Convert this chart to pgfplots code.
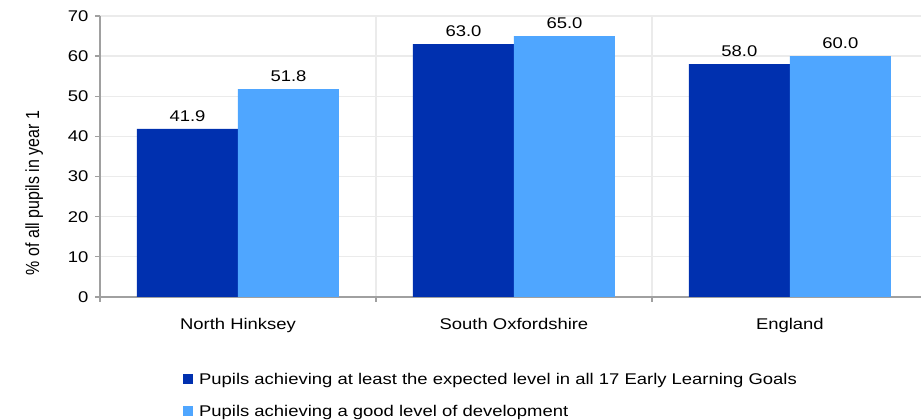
\documentclass[border=0pt]{standalone}
\usepackage{pgfplots}
\pgfplotsset{compat=1.18}
\usepackage{fontspec}
\setmainfont{Liberation Sans}[FakeStretch=1.19]
\newfontfamily\ylabfont{Liberation Sans}[FakeStretch=0.84]
\definecolor{darkb}{HTML}{0030AF}
\definecolor{lightb}{HTML}{4FA6FF}
\definecolor{gridc}{HTML}{EBEBEB}
\definecolor{axc}{HTML}{A0A0A0}
\newcommand{\mainsz}{\fontsize{15.5bp}{18bp}\selectfont}
\begin{document}
\begin{tikzpicture}
\begin{axis}[name=ax,
  scale only axis, width=821bp, height=281bp,
  xmin=-0.5, xmax=2.475, ymin=0, ymax=70,
  ybar=0pt, bar width=101bp,
  axis lines*=left,
  axis line style={axc, line width=1.3bp},
  /pgf/number format/assume math mode=true,
  font=\mainsz,
  xtick={-0.5,0.5,1.5}, xticklabels={},
  xmajorgrids,
  extra x ticks={0,1,2},
  extra x tick labels={North Hinksey, South Oxfordshire, England},
  extra x tick style={major tick length=0pt, grid=none, x tick label style={yshift=-18bp}},
  ytick={0,10,...,70},
  ymajorgrids,
  major grid style={gridc, line width=1.3bp},
  tick style={axc, line width=1.3bp},
  major tick length=5bp, tick align=outside,
  y tick label style={xshift=-3bp},
  nodes near coords,
  every node near coord/.append style={font=\mainsz, black, yshift=4bp,
    /pgf/number format/fixed, /pgf/number format/fixed zerofill, /pgf/number format/precision=1},
  ylabel={\ylabfont\fontsize{19bp}{22bp}\selectfont \% of all pupils in year 1},
  ylabel style={at={(rel axis cs:-0.08,0.37)}, anchor=center},
  legend style={draw=none, fill=none, at={(0.0974,-0.256)}, anchor=north west,
    font=\mainsz, row sep=15bp, cells={anchor=west},
    /tikz/every odd column/.append style={column sep=4bp}},
  legend cell align=left,
]
\addplot[fill=darkb, draw=none, legend image code/.code={\fill[darkb] (0bp,-5bp) rectangle (10bp,5bp);}]
  coordinates {(0,41.9) (1,63.0) (2,58.0)};
\addplot[fill=lightb, draw=none, legend image code/.code={\fill[lightb] (0bp,-5bp) rectangle (10bp,5bp);}]
  coordinates {(0,51.8) (1,65.0) (2,60.0)};
\legend{Pupils achieving at least the expected level in all 17 Early Learning Goals, Pupils achieving a good level of development}
\end{axis}
\pgfresetboundingbox
\path ([xshift=-100bp,yshift=-123bp]ax.south west) rectangle ([yshift=16bp]ax.north east);
\end{tikzpicture}
\end{document}
